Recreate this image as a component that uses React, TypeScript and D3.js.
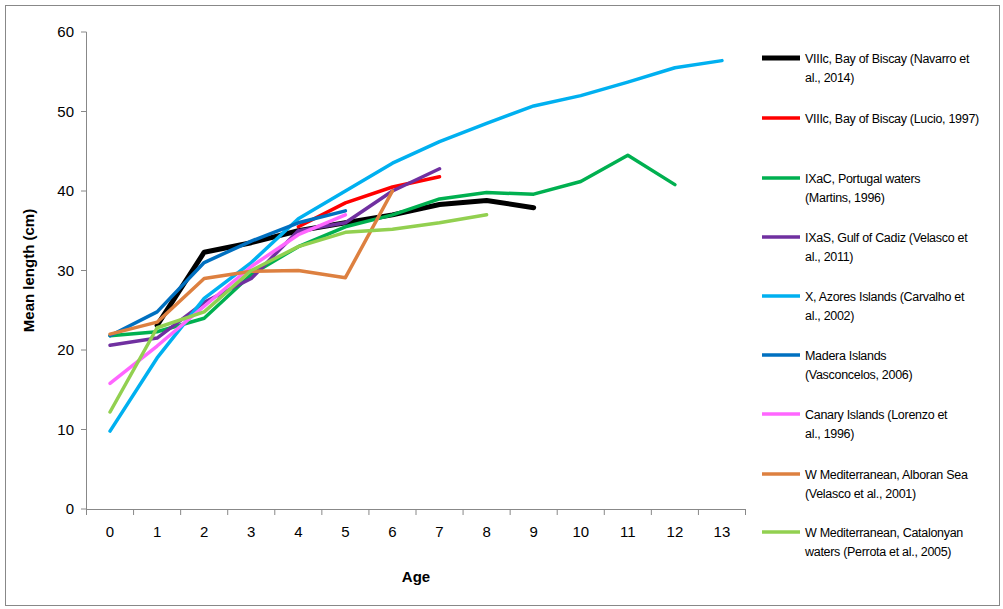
import * as d3 from "d3";

const ages = ["0","1","2","3","4","5","6","7","8","9","10","11","12","13"];
const yTicks = [0, 10, 20, 30, 40, 50, 60];

const navarro = [null, 23.1, 32.3, 33.5, 35, 36, 37, 38.3, 38.8, 37.9];
const lucio = [null, null, null, null, 35.5, 38.5, 40.5, 41.8];
const martins = [21.8, 22.3, 24, 29.5, 33, 35.5, 37, 39, 39.8, 39.6, 41.2, 44.5, 40.8];
const velasco2011 = [20.6, 21.5, 26, 29, 35, 36, 40, 42.8];
const carvalho = [9.8, 19, 26.5, 31, 36.5, 40, 43.5, 46.2, 48.5, 50.7, 52, 53.7, 55.5, 56.4];
const madera = [21.8, 24.8, 31, 33.7, 36, 37.5];
const canary = [15.8, 20.5, 25.5, 30.5, 34.5, 37];
const alboran = [22, 23.5, 29, 29.9, 30, 29.1, 40];
const catalonyan = [12.2, 22.8, 24.8, 30, 33, 34.8, 35.2, 36, 37];

const series = [
  { name: ["VIIIc, Bay of Biscay (Navarro et", "al., 2014)"], data: navarro, color: "#000000", w: 5 },
  { name: ["VIIIc, Bay of Biscay (Lucio, 1997)"], data: lucio, color: "#ff0000", w: 3.5 },
  { name: ["IXaC, Portugal waters", "(Martins, 1996)"], data: martins, color: "#00b050", w: 3.5 },
  { name: ["IXaS, Gulf of Cadiz (Velasco et", "al., 2011)"], data: velasco2011, color: "#7030a0", w: 3.5 },
  { name: ["X, Azores Islands (Carvalho et", "al., 2002)"], data: carvalho, color: "#00b0f0", w: 3.5 },
  { name: ["Madera Islands", "(Vasconcelos, 2006)"], data: madera, color: "#0070c0", w: 3.5 },
  { name: ["Canary Islands (Lorenzo et", "al., 1996)"], data: canary, color: "#ff66ff", w: 3.5 },
  { name: ["W Mediterranean, Alboran Sea", "(Velasco et al., 2001)"], data: alboran, color: "#dd8040", w: 3.5 },
  { name: ["W Mediterranean, Catalonyan", "waters (Perrota et al., 2005)"], data: catalonyan, color: "#92d050", w: 3.5 },
];
const legendY = [58, 118, 178, 237, 296, 355, 414, 474, 532];

export default function App() {
  const x = d3.scaleBand().domain(ages).range([86.5, 745.5]);
  const y = d3.scaleLinear().domain([0, 60]).range([509, 32]);
  const cx = (i: number) => x(ages[i])! + x.bandwidth() / 2;
  const font = "Liberation Sans, Arial, sans-serif";
  return (
    <svg width={1003} height={609} style={{ position: "absolute", left: 0, top: 0 }}>
      <rect x={5.5} y={5.5} width={994} height={600} fill="white" stroke="#888" />
      <line x1={86.5} x2={86.5} y1={y(60)} y2={y(0)} stroke="#888" />
      <line x1={86.5} x2={745.5} y1={y(0) + 0.5} y2={y(0) + 0.5} stroke="#888" />
      {yTicks.map((t) => (
        <g key={t}>
          <line x1={81} x2={86.5} y1={y(t)} y2={y(t)} stroke="#888" />
          <text x={74} y={y(t) + 5} textAnchor="end" fontFamily={font} fontSize={15}>{t}</text>
        </g>
      ))}
      {ages.map((a, i) => (
        <g key={a}>
          <line x1={x(a)!} x2={x(a)!} y1={509} y2={515} stroke="#888" />
          <text x={cx(i)} y={537} textAnchor="middle" fontFamily={font} fontSize={15}>{a}</text>
        </g>
      ))}
      <line x1={745.5} x2={745.5} y1={509} y2={515} stroke="#888" />
      <text x={416} y={582} textAnchor="middle" fontFamily={font} fontSize={15} fontWeight="bold">Age</text>
      <text transform={`translate(34,${y(30)}) rotate(-90)`} textAnchor="middle" fontFamily={font} fontSize={15} fontWeight="bold">Mean length (cm)</text>
      {series.map((s) => {
        const pts = s.data.map((v, i) => [i, v] as [number, number | null]).filter((p) => p[1] != null) as [number, number][];
        const line = d3.line<[number, number]>().x((p) => cx(p[0])).y((p) => y(p[1]));
        return <path key={s.color} d={line(pts)!} fill="none" stroke={s.color} strokeWidth={s.w} strokeLinejoin="round" strokeLinecap="round" />;
      })}
      {series.map((s, i) => (
        <g key={"l" + i}>
          <line x1={762} x2={800} y1={legendY[i]} y2={legendY[i]} stroke={s.color} strokeWidth={s.w} />
          {s.name.map((t, j) => (
            <text key={j} x={805} y={legendY[i] + 5 + j * 19} fontFamily={font} fontSize={12.5} letterSpacing={-0.3}>{t}</text>
          ))}
        </g>
      ))}
    </svg>
  );
}
